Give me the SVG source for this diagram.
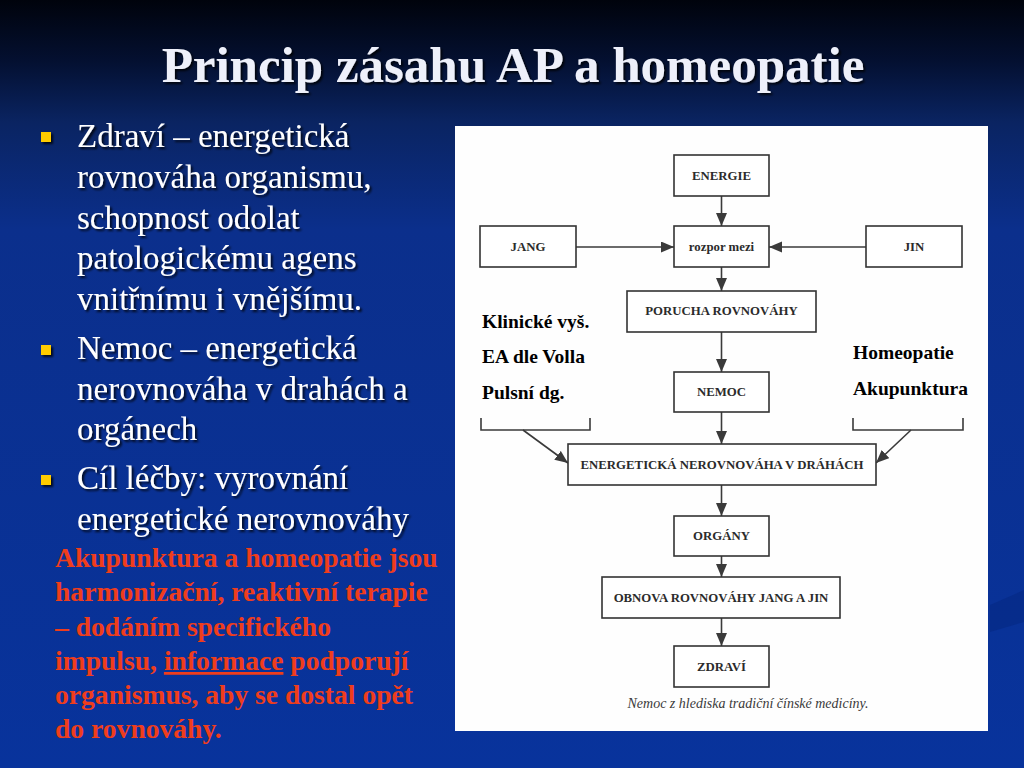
<svg xmlns="http://www.w3.org/2000/svg" width="1024" height="768" viewBox="0 0 1024 768">
<defs>
<linearGradient id="bg" x1="0" y1="0" x2="0" y2="1">
<stop offset="0" stop-color="#00030c"/>
<stop offset="0.08" stop-color="#041031"/>
<stop offset="0.16" stop-color="#0a2462"/>
<stop offset="0.3" stop-color="#0b2f8c"/>
<stop offset="1" stop-color="#08339c"/>
</linearGradient>
<filter id="sh" x="-5%" y="-20%" width="110%" height="140%">
<feDropShadow dx="2" dy="2" stdDeviation="0.8" flood-color="#000" flood-opacity="0.8"/>
</filter>
<marker id="ah" markerUnits="userSpaceOnUse" markerWidth="14" markerHeight="12" refX="13" refY="5.5" orient="auto">
<path d="M0,0 L13,5.5 L0,11 Z" fill="#3a3a3a"/>
</marker>
<style>
.box{fill:#fff;stroke:#333;stroke-width:1.6}
.bt{font-family:"Liberation Serif","Times New Roman",serif;font-weight:bold;font-size:12.8px;fill:#2b2b2b;text-anchor:middle}
.ln{stroke:#3a3a3a;stroke-width:1.6;fill:none}
.ann{font-family:"Liberation Serif","Times New Roman",serif;font-weight:bold;font-size:19.5px;fill:#000}
.wt{font-family:"Liberation Serif","Times New Roman",serif;font-size:33px;fill:#fff}
.rt{font-family:"Liberation Serif","Times New Roman",serif;font-weight:bold;font-size:27.6px;fill:#ef3d1c}
.bul{fill:#ffcc00}
</style>
</defs>
<rect width="1024" height="768" fill="url(#bg)"/>
<polygon points="990,605 1024,590 1024,622 990,632" fill="#062a86" opacity="0.7"/>

<text x="513" y="82" text-anchor="middle" font-family="Liberation Serif, Times New Roman, serif" font-weight="bold" font-size="51" fill="#eef0fa" filter="url(#sh)">Princip zásahu AP a homeopatie</text>

<g id="bullets" filter="url(#sh)">
<rect class="bul" x="41" y="132" width="10" height="10"/>
<rect class="bul" x="41" y="345" width="10" height="10"/>
<rect class="bul" x="41" y="475" width="10" height="10"/>
<text class="wt" x="77" y="147">Zdraví – energetická</text>
<text class="wt" x="77" y="188">rovnováha organismu,</text>
<text class="wt" x="77" y="229">schopnost odolat</text>
<text class="wt" x="77" y="269">patologickému agens</text>
<text class="wt" x="77" y="310">vnitřnímu i vnějšímu.</text>
<text class="wt" x="77" y="359">Nemoc – energetická</text>
<text class="wt" x="77" y="400">nerovnováha v drahách a</text>
<text class="wt" x="77" y="440">orgánech</text>
<text class="wt" x="77" y="489">Cíl léčby: vyrovnání</text>
<text class="wt" x="77" y="530">energetické nerovnováhy</text>
</g>

<g id="note">
<text class="rt" x="55" y="567">Akupunktura a homeopatie jsou</text>
<text class="rt" x="55" y="601">harmonizační, reaktivní terapie</text>
<text class="rt" x="55" y="636">– dodáním specifického</text>
<text class="rt" x="55" y="670">impulsu, <tspan text-decoration="underline">informace</tspan> podporují</text>
<text class="rt" x="55" y="704">organismus, aby se dostal opět</text>
<text class="rt" x="55" y="738">do rovnováhy.</text>
</g>

<rect x="455" y="126" width="533" height="605" fill="#fefefe"/>

<g id="connectors">
<line class="ln" x1="721.5" y1="196" x2="721.5" y2="226" marker-end="url(#ah)"/>
<line class="ln" x1="576" y1="247" x2="674" y2="247" marker-end="url(#ah)"/>
<line class="ln" x1="866" y1="247" x2="769" y2="247" marker-end="url(#ah)"/>
<line class="ln" x1="721.5" y1="267" x2="721.5" y2="291" marker-end="url(#ah)"/>
<line class="ln" x1="721.5" y1="332" x2="721.5" y2="372" marker-end="url(#ah)"/>
<line class="ln" x1="721.5" y1="412" x2="721.5" y2="444" marker-end="url(#ah)"/>
<line class="ln" x1="721.5" y1="485" x2="721.5" y2="516" marker-end="url(#ah)"/>
<line class="ln" x1="721.5" y1="556" x2="721.5" y2="577" marker-end="url(#ah)"/>
<line class="ln" x1="721.5" y1="618" x2="721.5" y2="646" marker-end="url(#ah)"/>
<path class="ln" d="M481,418 V430 H590 V418"/>
<path class="ln" d="M853,418 V430 H963 V418"/>
<line class="ln" x1="523" y1="430" x2="568" y2="463" marker-end="url(#ah)"/>
<line class="ln" x1="911" y1="430" x2="876" y2="463" marker-end="url(#ah)"/>
</g>

<g id="energie"><rect class="box" x="674" y="155" width="95" height="41"/><text class="bt" x="721.5" y="180">ENERGIE</text></g>
<g id="rozpor"><rect class="box" x="674" y="226" width="95" height="41"/><text class="bt" x="721.5" y="251">rozpor mezi</text></g>
<g id="jang"><rect class="box" x="480" y="226" width="96" height="41"/><text class="bt" x="528" y="251">JANG</text></g>
<g id="jin"><rect class="box" x="866" y="226" width="96" height="41"/><text class="bt" x="914" y="251">JIN</text></g>
<g id="porucha"><rect class="box" x="627" y="291" width="189" height="41"/><text class="bt" x="721.5" y="315">PORUCHA ROVNOVÁHY</text></g>
<g id="nemoc"><rect class="box" x="674" y="372" width="95" height="40"/><text class="bt" x="721.5" y="396">NEMOC</text></g>
<g id="nerovnovaha"><rect class="box" x="568" y="444" width="308" height="41"/><text class="bt" x="722" y="469">ENERGETICKÁ NEROVNOVÁHA V DRÁHÁCH</text></g>
<g id="organy"><rect class="box" x="674" y="516" width="95" height="40"/><text class="bt" x="721.5" y="540">ORGÁNY</text></g>
<g id="obnova"><rect class="box" x="602" y="577" width="238" height="41"/><text class="bt" x="721" y="602">OBNOVA ROVNOVÁHY JANG A JIN</text></g>
<g id="zdravi"><rect class="box" x="674" y="646" width="95" height="41"/><text class="bt" x="721.5" y="671">ZDRAVÍ</text></g>

<g id="annotations">
<text class="ann" x="482" y="328">Klinické vyš.</text>
<text class="ann" x="482" y="363">EA dle Volla</text>
<text class="ann" x="482" y="399">Pulsní dg.</text>
<text class="ann" x="853" y="359">Homeopatie</text>
<text class="ann" x="853" y="395">Akupunktura</text>
</g>
<text x="748" y="708" text-anchor="middle" font-family="Liberation Serif, Times New Roman, serif" font-style="italic" font-size="14" fill="#3a3a3a">Nemoc z hlediska tradiční čínské medicíny.</text>
</svg>
